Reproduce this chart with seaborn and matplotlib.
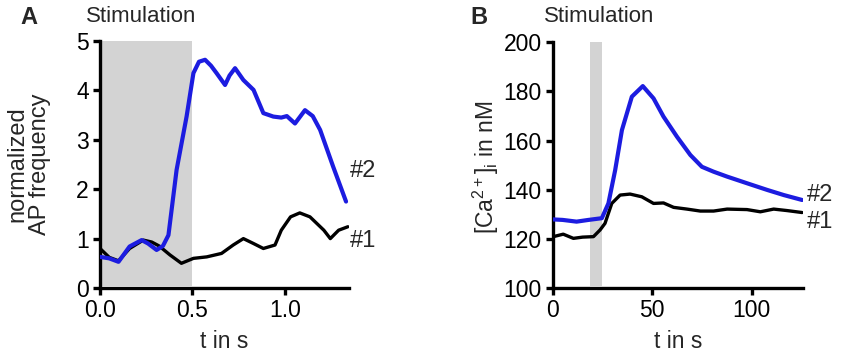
import seaborn as sns
import pandas as pd
import matplotlib.pyplot as plt

#-----------------------------------------------------------------------------------------------------------------------
"""Data read off the figure"""
# Panel A - normalized AP frequency
a_t2 = [0.0, 0.05, 0.1, 0.16, 0.225, 0.26, 0.306, 0.34, 0.37, 0.414, 0.468, 0.505, 0.535, 0.568, 0.6, 0.63,
        0.676, 0.7, 0.73, 0.775, 0.83, 0.883, 0.937, 0.98, 1.01, 1.054, 1.108, 1.15, 1.19, 1.26, 1.33]
a_v2 = [0.63, 0.6, 0.53, 0.84, 0.97, 0.9, 0.77, 0.85, 1.07, 2.39, 3.47, 4.35, 4.58, 4.62, 4.5, 4.35,
        4.11, 4.3, 4.45, 4.21, 4.01, 3.54, 3.47, 3.45, 3.48, 3.33, 3.6, 3.48, 3.2, 2.46, 1.75]
a_t1 = [0.0, 0.05, 0.1, 0.16, 0.234, 0.28, 0.32, 0.378, 0.44, 0.505, 0.577, 0.657, 0.72, 0.775, 0.83, 0.883,
        0.946, 0.98, 1.03, 1.08, 1.135, 1.21, 1.245, 1.29, 1.34]
a_v1 = [0.8, 0.62, 0.55, 0.8, 0.97, 0.93, 0.85, 0.67, 0.5, 0.6, 0.63, 0.7, 0.87, 1.0, 0.9, 0.8,
        0.87, 1.17, 1.44, 1.52, 1.44, 1.17, 1.0, 1.17, 1.24]
a_stim = (0.0, 0.5)

# Panel B - [Ca2+]i in nM
b_t2 = [0.3, 5, 12, 18, 24.7, 28, 31.4, 34.8, 39.8, 45.3, 50.7, 55.7, 62.5, 69.2, 75, 80.9, 87.7, 97.7,
        107.8, 116.2, 125.4]
b_v2 = [128.0, 127.8, 127.1, 127.8, 128.5, 134.5, 148, 164.3, 177.9, 182.2, 177.2, 169.8, 161.6, 154.2,
        149.4, 147.4, 145.4, 142.7, 140, 137.9, 135.9]
b_t1 = [0.3, 5.3, 10.4, 15, 20.5, 23.8, 26.3, 29.7, 33.9, 38.9, 44.8, 50.7, 55.7, 60.8, 67.5, 74.2, 80.9,
        87.7, 97.7, 104.4, 111.1, 117.8, 125.4]
b_v1 = [121, 122, 120.3, 120.8, 121, 123.7, 126.4, 134.5, 137.9, 138.3, 137.2, 134.5, 134.7, 132.9, 132.2,
        131.4, 131.4, 132.2, 132, 131.1, 132.2, 131.6, 130.8]
b_stim = (19, 25)

dfA = pd.concat([pd.DataFrame({'t': a_t1, 'v': a_v1, 'cell': '#1'}),
                 pd.DataFrame({'t': a_t2, 'v': a_v2, 'cell': '#2'})])
dfB = pd.concat([pd.DataFrame({'t': b_t1, 'v': b_v1, 'cell': '#1'}),
                 pd.DataFrame({'t': b_t2, 'v': b_v2, 'cell': '#2'})])

#-----------------------------------------------------------------------------------------------------------------------
"""Style"""
sns.set_style("ticks")
plt.rcParams['font.family'] = ['Liberation Sans', 'DejaVu Sans']
plt.rcParams['mathtext.fontset'] = 'custom'
plt.rcParams['mathtext.rm'] = 'Liberation Sans'
plt.rcParams['mathtext.it'] = 'Liberation Sans'

palette = {'#1': '#000000', '#2': '#1c1ce0'}
W, H = 850, 363

fig = plt.figure(figsize=(8.5, 3.63), dpi=100)
ax = fig.add_axes([100 / W, (H - 288) / H, 249 / W, 247 / H])
ax2 = fig.add_axes([552.7 / W, (H - 288.3) / H, 250.6 / W, 246 / H])

#-----------------------------------------------------------------------------------------------------------------------
"""Plotting"""
for a, df, stim, ylim in [(ax, dfA, a_stim, (0, 5)), (ax2, dfB, b_stim, (100, 200))]:
    a.axvspan(stim[0], stim[1], ymin=0.01, ymax=1, color='#d3d3d3', lw=0, zorder=0)
    sns.lineplot(data=df[df['cell'] == '#1'], x='t', y='v', color=palette['#1'], lw=2.4, ax=a, zorder=2)
    sns.lineplot(data=df[df['cell'] == '#2'], x='t', y='v', color=palette['#2'], lw=3.0, ax=a, zorder=3)
    a.set_ylim(*ylim)
    for s in ['top', 'right']:
        a.spines[s].set_visible(False)
    for s in ['left', 'bottom']:
        a.spines[s].set_linewidth(2.4)
        a.spines[s].set_color('black')
    a.tick_params(axis='both', width=2.4, length=5, labelsize=16.5, colors='black', pad=3)
    a.set_xlabel('t in s', fontsize=16.5)
    a.xaxis.set_label_coords(0.5, -0.215)
    a.xaxis.label.set_va('center')

ax.set_xlim(0, 1.346)
ax.set_xticks([0.0, 0.5, 1.0])
ax.set_xticklabels(['0.0', '0.5', '1.0'])
ax.set_yticks([0, 1, 2, 3, 4, 5])
ax.set_ylabel('normalized\nAP frequency', fontsize=17, linespacing=1.05)
ax.yaxis.set_label_coords(-0.285, 0.5)
ax.yaxis.label.set_va('center')

ax2.set_xlim(0, 126)
ax2.set_xticks([0, 50, 100])
ax2.set_yticks([100, 120, 140, 160, 180, 200])
ax2.set_ylabel('[Ca$^{2+}$]$_i$ in nM', fontsize=16.5)
ax2.yaxis.set_label_coords(-0.266, 0.49)
ax2.yaxis.label.set_va('center')

#-----------------------------------------------------------------------------------------------------------------------
"""Annotations"""
fig.text(20 / W, 1 - 18 / H, 'A', fontsize=17, fontweight='bold', va='center', ha='left')
fig.text(86 / W, 1 - 16 / H, 'Stimulation', fontsize=16, va='center', ha='left')
fig.text(470 / W, 1 - 18 / H, 'B', fontsize=17, fontweight='bold', va='center', ha='left')
fig.text(544 / W, 1 - 16 / H, 'Stimulation', fontsize=16, va='center', ha='left')

fig.text(350 / W, 1 - 171 / H, '#2', fontsize=17, va='center', ha='left')
fig.text(350 / W, 1 - 241 / H, '#1', fontsize=17, va='center', ha='left')
fig.text(807 / W, 1 - 195 / H, '#2', fontsize=17, va='center', ha='left')
fig.text(807 / W, 1 - 222 / H, '#1', fontsize=17, va='center', ha='left')

fig.savefig('out.png', dpi=100)
